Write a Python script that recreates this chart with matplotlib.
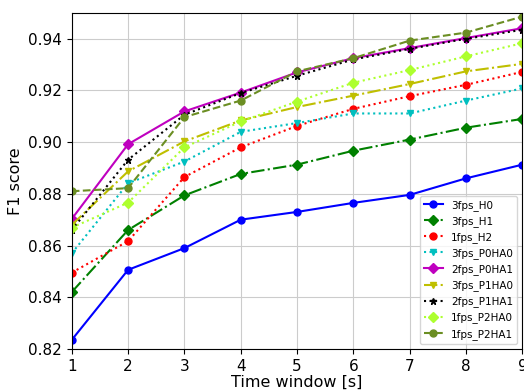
import matplotlib
matplotlib.use('Agg')
import matplotlib.pyplot as plt
import numpy as np

windows = [1, 2, 3, 4, 5, 6, 7, 8, 9]

h0_3fps = [0.8235, 0.8506, 0.859, 0.870, 0.873, 0.8765, 0.8796, 0.886, 0.8913]
h1_3fps = [0.842, 0.866, 0.8794, 0.8877, 0.8913, 0.8967, 0.901, 0.9056, 0.909]
h2_1fps = [0.8495, 0.8617, 0.8865, 0.898, 0.9063, 0.9129, 0.9178, 0.9222, 0.9272]
p0ha0_3fps = [0.857, 0.8841, 0.8925, 0.904, 0.9074, 0.9111, 0.9111, 0.9161, 0.9208]
p0ha1_2fps = [0.8703, 0.8992, 0.9119, 0.9192, 0.927, 0.9325, 0.9364, 0.9403, 0.9441]
p1ha0_3fps = [0.868, 0.8887, 0.9003, 0.9084, 0.9136, 0.918, 0.9225, 0.9274, 0.9303]
p1ha1_2fps = [0.866, 0.8932, 0.9106, 0.919, 0.9257, 0.932, 0.9361, 0.940, 0.9435]
p2ha0_1fps = [0.8669, 0.8766, 0.898, 0.908, 0.9157, 0.923, 0.9279, 0.9332, 0.9383]
p2ha1_1fps = [0.881, 0.8822, 0.9097, 0.9161, 0.9274, 0.9325, 0.9393, 0.9424, 0.9486]

fig = plt.figure(figsize=(5.24, 3.92), dpi=100)
ax = fig.add_axes([0.137, 0.11, 0.86, 0.857])

ms = 5
ax.plot(windows, h0_3fps, '-o', color='b', ms=ms, label='3fps_H0')
ax.plot(windows, h1_3fps, '-.D', color='g', ms=ms, label='3fps_H1')
ax.plot(windows, h2_1fps, ':o', color='r', ms=ms, label='1fps_H2')
ax.plot(windows, p0ha0_3fps, ':v', color='c', ms=ms, label='3fps_P0HA0')
ax.plot(windows, p0ha1_2fps, '-D', color='m', ms=ms, label='2fps_P0HA1')
ax.plot(windows, p1ha0_3fps, '-.v', color='y', ms=ms, label='3fps_P1HA0')
ax.plot(windows, p1ha1_2fps, ':*', color='k', ms=ms, label='2fps_P1HA1')
ax.plot(windows, p2ha0_1fps, ':D', color='greenyellow', ms=ms, label='1fps_P2HA0')
ax.plot(windows, p2ha1_1fps, '--o', color='olivedrab', ms=ms, label='1fps_P2HA1')

ax.set_xlim(1, 9)
ax.set_ylim(0.82, 0.95)
ax.set_xticks(windows)
ax.set_yticks(np.arange(0.82, 0.941, 0.02))
ax.tick_params(labelsize=11)
ax.set_xlabel('Time window [s]', fontsize=11.5, labelpad=1)
ax.set_ylabel('F1 score', fontsize=11.5)
ax.grid(True, color='#cccccc')
ax.legend(loc='lower right', fontsize=7.5, handlelength=1.8)

plt.savefig('out.png', dpi=100)
